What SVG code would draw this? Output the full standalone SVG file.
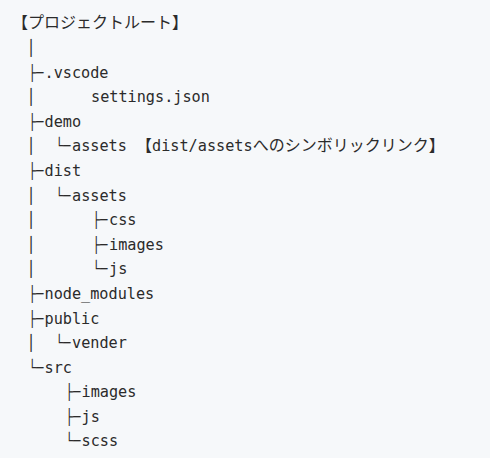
<svg xmlns="http://www.w3.org/2000/svg" width="490" height="458" viewBox="0 0 490 458">
<style>
  text { font-family: "DejaVu Sans Mono", "Noto Sans CJK JP", monospace; font-size: 15.2px; fill: #2b2b2b; }
  .t { font-family: "DejaVu Sans Mono", monospace; }
  .j { font-family: "Noto Sans CJK JP", sans-serif; font-size: 16px; }
</style>
<rect x="0" y="0" width="490" height="458" fill="#f6f8fa"/>
<g id="connectors">
  <text class="t" x="31" y="52.5" text-anchor="middle">│</text>
  <text class="t" x="28.5" y="77.5" textLength="15" lengthAdjust="spacingAndGlyphs">├─</text>
  <text class="t" x="31" y="102" text-anchor="middle">│</text>
  <text class="t" x="28.5" y="126.5" textLength="15" lengthAdjust="spacingAndGlyphs">├─</text>
  <text class="t" x="31" y="151" text-anchor="middle">│</text>
  <text class="t" x="55.5" y="151" textLength="15" lengthAdjust="spacingAndGlyphs">└─</text>
  <text class="t" x="28.5" y="176" textLength="15" lengthAdjust="spacingAndGlyphs">├─</text>
  <text class="t" x="31" y="200.5" text-anchor="middle">│</text>
  <text class="t" x="55.5" y="200.5" textLength="15" lengthAdjust="spacingAndGlyphs">└─</text>
  <text class="t" x="31" y="225" text-anchor="middle">│</text>
  <text class="t" x="92.5" y="225" textLength="15" lengthAdjust="spacingAndGlyphs">├─</text>
  <text class="t" x="31" y="249.5" text-anchor="middle">│</text>
  <text class="t" x="92.5" y="249.5" textLength="15" lengthAdjust="spacingAndGlyphs">├─</text>
  <text class="t" x="31" y="274" text-anchor="middle">│</text>
  <text class="t" x="92.5" y="274" textLength="15" lengthAdjust="spacingAndGlyphs">└─</text>
  <text class="t" x="28.5" y="299" textLength="15" lengthAdjust="spacingAndGlyphs">├─</text>
  <text class="t" x="28.5" y="323.5" textLength="15" lengthAdjust="spacingAndGlyphs">├─</text>
  <text class="t" x="31" y="348" text-anchor="middle">│</text>
  <text class="t" x="55.5" y="348" textLength="15" lengthAdjust="spacingAndGlyphs">└─</text>
  <text class="t" x="28.5" y="372.5" textLength="15" lengthAdjust="spacingAndGlyphs">└─</text>
  <text class="t" x="65.5" y="397" textLength="15" lengthAdjust="spacingAndGlyphs">├─</text>
  <text class="t" x="65.5" y="421.5" textLength="15" lengthAdjust="spacingAndGlyphs">├─</text>
  <text class="t" x="65.5" y="446" textLength="15" lengthAdjust="spacingAndGlyphs">└─</text>
</g>
<g id="root"><text class="j" x="12" y="28">【プロジェクトルート】</text></g>
<g id="vscode"><text x="44.5" y="77.5">.vscode</text></g>
<g id="settings-json"><text x="91" y="102">settings.json</text></g>
<g id="demo"><text x="44.5" y="126.5">demo</text></g>
<g id="demo-assets"><text x="72" y="151">assets <tspan class="j">【</tspan>dist/assets<tspan class="j">へのシンボリックリンク】</tspan></text></g>
<g id="dist"><text x="44.5" y="176">dist</text></g>
<g id="dist-assets"><text x="72" y="200.5">assets</text></g>
<g id="css"><text x="109" y="225">css</text></g>
<g id="dist-images"><text x="109" y="249.5">images</text></g>
<g id="dist-js"><text x="109" y="274">js</text></g>
<g id="node-modules"><text x="44.5" y="299">node_modules</text></g>
<g id="public"><text x="44.5" y="323.5">public</text></g>
<g id="vender"><text x="72" y="348">vender</text></g>
<g id="src"><text x="44.5" y="372.5">src</text></g>
<g id="src-images"><text x="81.5" y="397">images</text></g>
<g id="src-js"><text x="81.5" y="421.5">js</text></g>
<g id="scss"><text x="81.5" y="446">scss</text></g>
</svg>
